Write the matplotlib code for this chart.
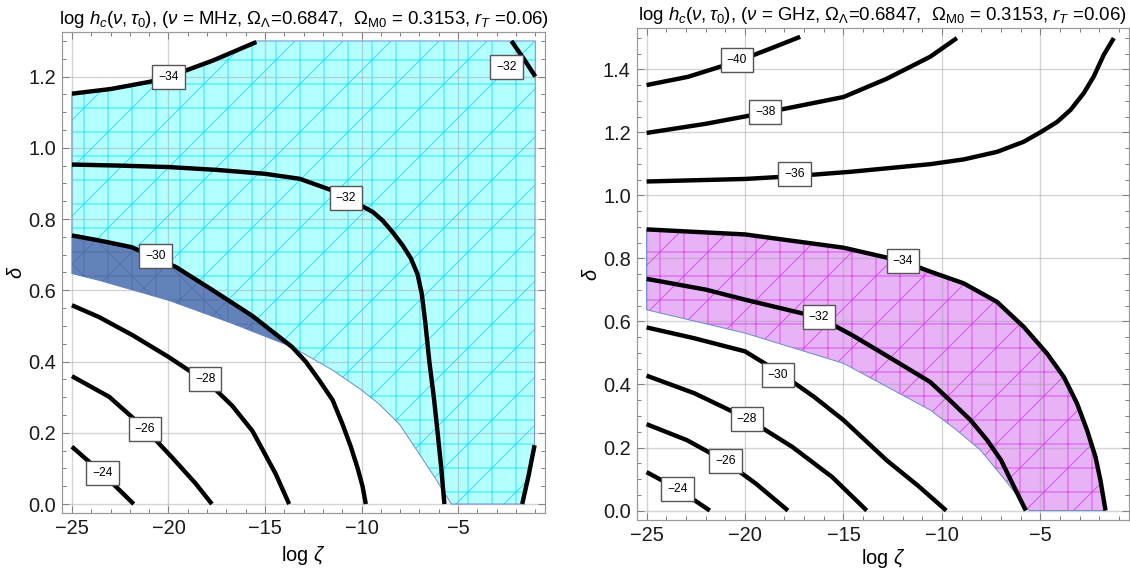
import numpy as np
import matplotlib
matplotlib.use("Agg")
from matplotlib import pyplot as plt
from matplotlib.ticker import MultipleLocator, FormatStrFormatter

plt.rcParams['font.family'] = ['Liberation Sans', 'DejaVu Sans']
plt.rcParams['mathtext.fontset'] = 'custom'
plt.rcParams['mathtext.rm'] = 'Liberation Sans'
plt.rcParams['mathtext.it'] = 'Liberation Sans:italic'
plt.rcParams['hatch.linewidth'] = 0.5

# ---- left panel (MHz): contour lines (log zeta, delta) ----
L_m34_x = [-25, -23, -21, -20, -19.2, -17.7, -15.45]
L_m34_y = [1.152, 1.165, 1.185, 1.198, 1.215, 1.245, 1.297]
L_m32_x = [-25, -22.5, -20, -17.5, -15, -13.2, -11.5, -10.03, -9.42, -8.91, -8.39, -7.87, -7.45, -7.1,
           -6.88, -6.7, -6.49, -6.26, -6.06, -5.88, -5.71]
L_m32_y = [0.953, 0.950, 0.946, 0.938, 0.927, 0.913, 0.88, 0.838, 0.82, 0.796, 0.763, 0.726, 0.69, 0.645,
           0.59, 0.51, 0.4, 0.301, 0.2, 0.105, 0.0]
L_m32b_x = [-2.24, -1.6, -1.0]
L_m32b_y = [1.3, 1.25, 1.2]
L_m32c_x = [-1.68, -1.35, -1.04]
L_m32c_y = [0.0, 0.08, 0.165]
L_m30_x = [-25, -23.6, -21.9, -19.6, -17.7, -15.65, -13.6, -12.88, -12.2, -11.5, -11.0, -10.55, -10.2, -9.95, -9.78]
L_m30_y = [0.754, 0.74, 0.721, 0.665, 0.6, 0.528, 0.441, 0.399, 0.348, 0.292, 0.226, 0.16, 0.1, 0.05, 0.0]
L_m28_x = [-25, -23.6, -21.86, -20, -18.1, -17.54, -16.7, -15.65, -14.45, -13.75]
L_m28_y = [0.558, 0.525, 0.474, 0.413, 0.345, 0.32, 0.276, 0.205, 0.085, 0.0]
L_m26_x = [-25, -23.07, -21.22, -19.8, -18.6, -17.75]
L_m26_y = [0.359, 0.301, 0.212, 0.13, 0.058, 0.0]
L_m24_x = [-25, -23.42, -21.8]
L_m24_y = [0.161, 0.086, 0.0]
# lower edge of the shaded region
L_low_x = [-25, -23.6, -20, -16.7, -13.6, -11.5, -10, -9.08, -8.05, -7.0, -6.15, -5.35]
L_low_y = [0.647, 0.628, 0.572, 0.507, 0.441, 0.376, 0.32, 0.28, 0.225, 0.14, 0.07, 0.0]

L_labels = ['\u221234', '\u221232', '\u221232', '\u221230', '\u221228', '\u221226', '\u221224']
L_label_x = [-20.0, -10.8, -2.5, -20.68, -18.1, -21.22, -23.41]
L_label_y = [1.198, 0.859, 1.228, 0.695, 0.35, 0.212, 0.086]

# ---- right panel (GHz) ----
R_m40_x = [-25, -22.9, -20.4, -18.7, -17.2]
R_m40_y = [1.35, 1.376, 1.425, 1.466, 1.503]
R_m38_x = [-25, -22, -19, -15, -12.8, -10.59, -9.24]
R_m38_y = [1.198, 1.227, 1.262, 1.312, 1.37, 1.44, 1.499]
R_m36_x = [-25, -20, -17.5, -14.6, -10.59, -8.9, -7.2, -5.85, -5.0, -4.15, -3.47, -2.8, -2.29, -1.78, -1.27]
R_m36_y = [1.044, 1.052, 1.061, 1.075, 1.099, 1.114, 1.138, 1.17, 1.2, 1.233, 1.271, 1.324, 1.377, 1.446, 1.499]
R_m34_x = [-25, -20, -15, -12, -10.59, -8.9, -7.2, -5.85, -4.66, -3.81, -3.14, -2.63, -2.2, -1.95, -1.69]
R_m34_y = [0.892, 0.876, 0.834, 0.791, 0.758, 0.721, 0.662, 0.583, 0.498, 0.424, 0.34, 0.255, 0.17, 0.096, 0.0]
R_m32_x = [-25, -22, -20, -16.25, -14.6, -12.8, -10.6, -9.6, -8.55, -7.7, -7.0, -6.5, -5.74]
R_m32_y = [0.735, 0.701, 0.669, 0.613, 0.558, 0.491, 0.408, 0.35, 0.287, 0.223, 0.16, 0.096, 0.0]
R_m30_x = [-25, -22.6, -20, -18.3, -16.5, -15, -12.8, -11.2, -9.78]
R_m30_y = [0.581, 0.547, 0.505, 0.44, 0.361, 0.287, 0.159, 0.078, 0.0]
R_m28_x = [-25, -22.57, -19.9, -17.6, -15.57, -13.82]
R_m28_y = [0.428, 0.372, 0.292, 0.202, 0.106, 0.0]
R_m26_x = [-25, -22.94, -21.0, -19.44, -17.82]
R_m26_y = [0.274, 0.223, 0.156, 0.085, 0.0]
R_m24_x = [-25, -23.43, -21.79]
R_m24_y = [0.122, 0.069, 0.0]
R_low_x = [-25, -20, -15, -12.8, -10.6, -9.25, -8.05, -6.9, -5.57]
R_low_y = [0.637, 0.563, 0.467, 0.393, 0.319, 0.255, 0.192, 0.105, 0.0]

R_labels = ['\u221240', '\u221238', '\u221236', '\u221234', '\u221232', '\u221230', '\u221228', '\u221226', '\u221224']
R_label_x = [-20.42, -18.98, -17.49, -11.98, -16.25, -18.33, -19.9, -21.0, -23.43]
R_label_y = [1.429, 1.264, 1.068, 0.791, 0.613, 0.43, 0.292, 0.156, 0.069]

fig = plt.figure(figsize=(1130 / 144, 573 / 144), dpi=144)
ax1 = fig.add_axes([0.0551, 0.1042, 0.4272, 0.8405])
ax2 = fig.add_axes([0.5635, 0.0925, 0.4356, 0.8581])


def style_axes(ax, ymax, lpad):
    ax.set_xlim(-25.5, -0.5)
    ax.set_ylim(-0.02 * ymax, 1.02 * ymax)
    ax.xaxis.set_major_locator(MultipleLocator(5))
    ax.xaxis.set_minor_locator(MultipleLocator(1))
    ax.yaxis.set_major_locator(MultipleLocator(0.2))
    ax.yaxis.set_minor_locator(MultipleLocator(0.05))
    ax.yaxis.set_major_formatter(FormatStrFormatter('%.1f'))
    ax.tick_params(which='both', direction='in', top=True, right=True, color='#808080', width=0.5,
                   labelsize=10, labelcolor='#1a1a1a', pad=3)
    ax.tick_params(which='major', length=3.5)
    ax.tick_params(which='minor', length=2)
    for s in ax.spines.values():
        s.set_color('#999999')
        s.set_linewidth(0.6)
    ax.grid(True, which='major', color='#a0a0a0', alpha=0.45, linewidth=0.7, zorder=3)
    ax.set_xlabel(r'log $\zeta$', fontsize=10, labelpad=lpad)
    ax.set_ylabel(r'$\delta$', fontsize=10, labelpad=1)


def contour(ax, x, y):
    ax.plot(x, y, color='black', linewidth=2.2, solid_capstyle='butt', solid_joinstyle='round', zorder=5)


def labels(ax, texts, xs, ys):
    for t, x, y in zip(texts, xs, ys):
        ax.text(x, y, t, fontsize=6, ha='center', va='center', zorder=7,
                bbox=dict(boxstyle='square,pad=0.5', fc='white', ec='#555555', lw=0.7))


def mesh_fill(ax, xs, ys, face, line):
    ax.fill(xs, ys, facecolor=face, edgecolor='none', zorder=1)
    ax.fill(xs, ys, facecolor='none', edgecolor=line, hatch='+/', linewidth=0, zorder=2)
    ax.fill(xs, ys, facecolor='none', edgecolor='#6a8fd0', linewidth=0.5, zorder=2.5)


# ---- left panel ----
style_axes(ax1, 1.3, 3)
cyan_x = np.concatenate([L_m34_x, [-15.45, -1.0], L_m32c_x[::-1], L_low_x[::-1]])
cyan_y = np.concatenate([L_m34_y, [1.3, 1.3], L_m32c_y[::-1], L_low_y[::-1]])
mesh_fill(ax1, cyan_x, cyan_y, '#b4ffff', '#2fe4fb')

# dark band between the -30 line and the lower edge
m30x, m30y = np.array(L_m30_x), np.array(L_m30_y)
lowx, lowy = np.array(L_low_x), np.array(L_low_y)
keep30 = m30x <= -13.6
keeplow = lowx <= -13.6
dark_x = np.concatenate([m30x[keep30], lowx[keeplow][::-1]])
dark_y = np.concatenate([m30y[keep30], lowy[keeplow][::-1]])
ax1.fill(dark_x, dark_y, facecolor='#6282b9', edgecolor='none', zorder=2.6)
ax1.fill(dark_x, dark_y, facecolor='none', edgecolor='#5271a8', hatch='x+', linewidth=0, zorder=2.7)

for cx, cy in [(L_m34_x, L_m34_y), (L_m32_x, L_m32_y), (L_m32b_x, L_m32b_y), (L_m32c_x, L_m32c_y),
               (L_m30_x, L_m30_y), (L_m28_x, L_m28_y), (L_m26_x, L_m26_y), (L_m24_x, L_m24_y)]:
    contour(ax1, cx, cy)
labels(ax1, L_labels, L_label_x, L_label_y)
ax1.set_title(r'log $h_c(\nu,\tau_0)$, ($\nu$ = MHz, $\Omega_\Lambda$=0.6847,  $\Omega_{\rm M0}$ = 0.3153, $r_T$ =0.06)',
              fontsize=9.3, pad=4)

# ---- right panel ----
style_axes(ax2, 1.5, 1)
pink_x = np.concatenate([R_m34_x, R_low_x[::-1]])
pink_y = np.concatenate([R_m34_y, R_low_y[::-1]])
mesh_fill(ax2, pink_x, pink_y, '#e8b2f6', '#d555ec')

for cx, cy in [(R_m40_x, R_m40_y), (R_m38_x, R_m38_y), (R_m36_x, R_m36_y), (R_m34_x, R_m34_y),
               (R_m32_x, R_m32_y), (R_m30_x, R_m30_y), (R_m28_x, R_m28_y), (R_m26_x, R_m26_y),
               (R_m24_x, R_m24_y)]:
    contour(ax2, cx, cy)
labels(ax2, R_labels, R_label_x, R_label_y)
ax2.set_title(r'log $h_c(\nu,\tau_0)$, ($\nu$ = GHz, $\Omega_\Lambda$=0.6847,  $\Omega_{\rm M0}$ = 0.3153, $r_T$ =0.06)',
              fontsize=9.3, pad=4)

fig.savefig('out.png', dpi=144)
